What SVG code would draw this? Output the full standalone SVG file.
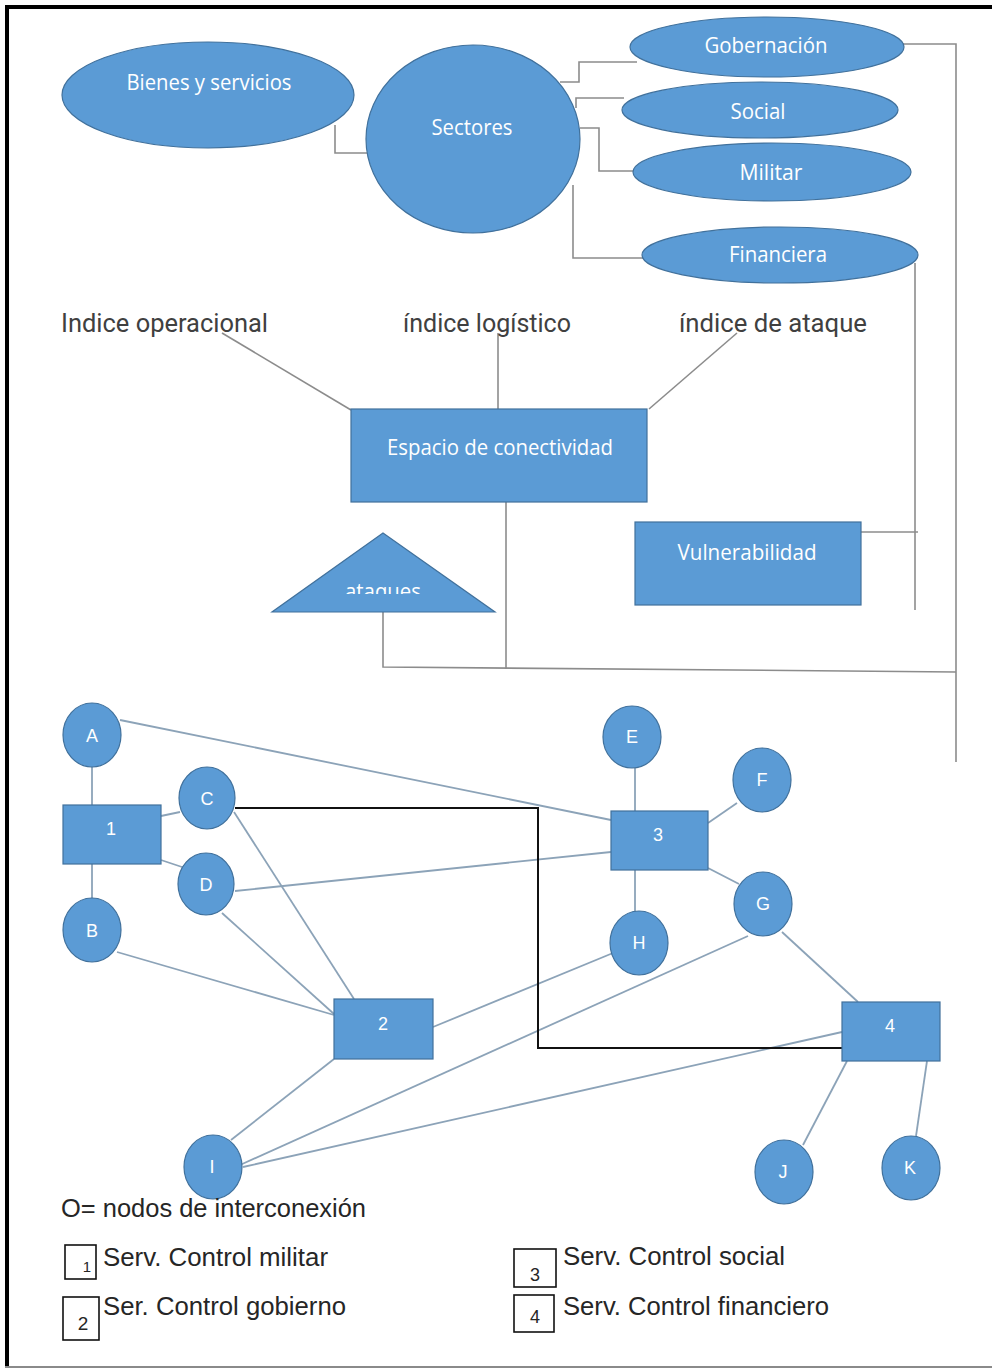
<svg xmlns="http://www.w3.org/2000/svg" width="992" height="1370" viewBox="0 0 992 1370">
  <defs>
    <style>
      .shape { fill: #5b9bd5; stroke: #41719c; stroke-width: 1.2; }
      .lbl { fill: #ffffff; font-family: "Open Sans", "Noto Sans", sans-serif; font-size: 21px; text-anchor: middle; }
      .node { fill: #ffffff; font-family: "Liberation Sans", Arial, sans-serif; font-size: 18px; text-anchor: middle; }
      .idx { fill: #404040; font-family: Roboto, "Liberation Sans", sans-serif; font-size: 26px; }
      .leg { fill: #262626; font-family: "Liberation Sans", Arial, sans-serif; font-size: 25px; }
      .legnum { fill: #262626; font-family: "Liberation Sans", Arial, sans-serif; text-anchor: middle; }
      .grey { fill: none; stroke: #8c8c8c; stroke-width: 1.6; }
      .edge { fill: none; stroke: #8ca3b8; stroke-width: 1.8; }
      .black { fill: none; stroke: #111111; stroke-width: 2; }
      .box { fill: #ffffff; stroke: #111111; stroke-width: 1.6; }
    </style>
    <clipPath id="clipAtaques">
      <rect x="300" y="560" width="180" height="34"/>
    </clipPath>
  </defs>

  <!-- page -->
  <rect x="0" y="0" width="992" height="1370" fill="#ffffff"/>
  <path d="M7,1367 V7 H992" fill="none" stroke="#000000" stroke-width="4"/>
  <line x1="5" y1="1367" x2="992" y2="1367" stroke="#8a8a8a" stroke-width="2"/>

  <!-- connectors -->
  <g id="connectors">
    <!-- sector tree -->
    <path class="grey" d="M335,125 V153 H367"/>
    <path class="grey" d="M560,82 H579 V62 H637"/>
    <path class="grey" d="M576,108 V98 H624"/>
    <path class="grey" d="M580,128 H599 V171 H634"/>
    <path class="grey" d="M573,185 V258 H643"/>
    <path class="grey" d="M903,44 H956 V762"/>
    <path class="grey" d="M915,263 V610"/>
    <path class="grey" d="M861,532 H918"/>
    <!-- indices -->
    <path class="grey" d="M222,333 L351,410"/>
    <path class="grey" d="M498,333 V409"/>
    <path class="grey" d="M737,333 L649,409"/>
    <!-- espacio / ataques bus -->
    <path class="grey" d="M506,502 V669"/>
    <path class="grey" d="M383,612 V667 L956,672"/>

    <!-- network -->
    <path class="edge" d="M92,767 V805"/>
    <path class="edge" d="M92,864 V898"/>
    <path class="edge" d="M120,720 L611,820"/>
    <path class="edge" d="M161,816 L180,812"/>
    <path class="edge" d="M161,860 L182,867"/>
    <path class="edge" d="M234,812 L354,999"/>
    <path class="edge" d="M222,913 L334,1014"/>
    <path class="edge" d="M117,952 L334,1015"/>
    <path class="edge" d="M235,891 L611,852"/>
    <path class="edge" d="M635,768 V811"/>
    <path class="edge" d="M737,803 L708,823"/>
    <path class="edge" d="M708,868 L739,884"/>
    <path class="edge" d="M635,870 V912"/>
    <path class="edge" d="M613,953 L433,1027"/>
    <path class="edge" d="M748,936 L240,1165"/>
    <path class="edge" d="M782,932 L858,1002"/>
    <path class="edge" d="M334,1059 L231,1140"/>
    <path class="edge" d="M842,1032 L243,1167"/>
    <path class="edge" d="M847,1061 L803,1145"/>
    <path class="edge" d="M927,1061 L916,1136"/>
    <path class="black" d="M235,808 H538 V1048 H842"/>
  </g>

  <!-- sectors -->
  <g id="bienes">
    <ellipse class="shape" cx="208" cy="95" rx="146" ry="53"/>
    <text class="lbl" x="209" y="90" textLength="165" lengthAdjust="spacingAndGlyphs">Bienes y servicios</text>
  </g>
  <g id="sectores">
    <ellipse class="shape" cx="473" cy="139" rx="107" ry="94"/>
    <text class="lbl" x="472" y="135" textLength="81" lengthAdjust="spacingAndGlyphs">Sectores</text>
  </g>
  <g id="gobernacion">
    <ellipse class="shape" cx="767" cy="47" rx="137" ry="30"/>
    <text class="lbl" x="766" y="53" textLength="123" lengthAdjust="spacingAndGlyphs">Gobernación</text>
  </g>
  <g id="social">
    <ellipse class="shape" cx="760" cy="110" rx="138" ry="28"/>
    <text class="lbl" x="758" y="119" textLength="55" lengthAdjust="spacingAndGlyphs">Social</text>
  </g>
  <g id="militar">
    <ellipse class="shape" cx="772" cy="172" rx="139" ry="29"/>
    <text class="lbl" x="771" y="180" textLength="63" lengthAdjust="spacingAndGlyphs">Militar</text>
  </g>
  <g id="financiera">
    <ellipse class="shape" cx="780" cy="255" rx="138" ry="28"/>
    <text class="lbl" x="778" y="262" textLength="98" lengthAdjust="spacingAndGlyphs">Financiera</text>
  </g>

  <!-- indices -->
  <g id="indice-operacional">
    <text class="idx" x="61" y="332" textLength="207" lengthAdjust="spacingAndGlyphs">Indice operacional</text>
  </g>
  <g id="indice-logistico">
    <text class="idx" x="403" y="332" textLength="168" lengthAdjust="spacingAndGlyphs">índice logístico</text>
  </g>
  <g id="indice-ataque">
    <text class="idx" x="679" y="332" textLength="188" lengthAdjust="spacingAndGlyphs">índice de ataque</text>
  </g>

  <g id="espacio">
    <rect class="shape" x="351" y="409" width="296" height="93"/>
    <text class="lbl" x="500" y="455" textLength="226" lengthAdjust="spacingAndGlyphs">Espacio de conectividad</text>
  </g>
  <g id="vulnerabilidad">
    <rect class="shape" x="635" y="522" width="226" height="83"/>
    <text class="lbl" x="747" y="560" textLength="139" lengthAdjust="spacingAndGlyphs">Vulnerabilidad</text>
  </g>
  <g id="ataques">
    <polygon class="shape" points="383,533 495,612 272,612"/>
    <text class="lbl" x="383" y="599" textLength="76" lengthAdjust="spacingAndGlyphs" clip-path="url(#clipAtaques)">ataques</text>
  </g>

  <!-- network nodes -->
  <g id="node-A"><ellipse class="shape" cx="92" cy="735" rx="29" ry="32"/><text class="node" x="92" y="742">A</text></g>
  <g id="node-B"><ellipse class="shape" cx="92" cy="930" rx="29" ry="32"/><text class="node" x="92" y="937">B</text></g>
  <g id="node-C"><ellipse class="shape" cx="207" cy="798" rx="28" ry="31"/><text class="node" x="207" y="805">C</text></g>
  <g id="node-D"><ellipse class="shape" cx="206" cy="884" rx="28" ry="31"/><text class="node" x="206" y="891">D</text></g>
  <g id="node-E"><ellipse class="shape" cx="632" cy="737" rx="29" ry="31"/><text class="node" x="632" y="743">E</text></g>
  <g id="node-F"><ellipse class="shape" cx="762" cy="780" rx="29" ry="32"/><text class="node" x="762" y="786">F</text></g>
  <g id="node-G"><ellipse class="shape" cx="763" cy="904" rx="29" ry="32"/><text class="node" x="763" y="910">G</text></g>
  <g id="node-H"><ellipse class="shape" cx="639" cy="943" rx="29" ry="32"/><text class="node" x="639" y="949">H</text></g>
  <g id="node-I"><ellipse class="shape" cx="213" cy="1167" rx="29" ry="32"/><text class="node" x="212" y="1173">I</text></g>
  <g id="node-J"><ellipse class="shape" cx="784" cy="1172" rx="29" ry="32"/><text class="node" x="783" y="1178">J</text></g>
  <g id="node-K"><ellipse class="shape" cx="911" cy="1168" rx="29" ry="32"/><text class="node" x="910" y="1174">K</text></g>

  <g id="serv-1"><rect class="shape" x="63" y="805" width="98" height="59"/><text class="node" x="111" y="835">1</text></g>
  <g id="serv-2"><rect class="shape" x="334" y="999" width="99" height="60"/><text class="node" x="383" y="1030">2</text></g>
  <g id="serv-3"><rect class="shape" x="611" y="811" width="97" height="59"/><text class="node" x="658" y="841">3</text></g>
  <g id="serv-4"><rect class="shape" x="842" y="1002" width="98" height="59"/><text class="node" x="890" y="1032">4</text></g>

  <!-- legend -->
  <g id="legend">
    <text class="leg" x="61" y="1217" textLength="305" lengthAdjust="spacingAndGlyphs">O= nodos de interconexión</text>

    <rect class="box" x="65" y="1245" width="31" height="34"/>
    <text class="legnum" x="87" y="1272" font-size="15">1</text>
    <text class="leg" x="103" y="1266" textLength="225" lengthAdjust="spacingAndGlyphs">Serv. Control militar</text>

    <rect class="box" x="63" y="1297" width="36" height="43"/>
    <text class="legnum" x="83" y="1330" font-size="19">2</text>
    <text class="leg" x="103" y="1315" textLength="243" lengthAdjust="spacingAndGlyphs">Ser. Control gobierno</text>

    <rect class="box" x="514" y="1249" width="42" height="38"/>
    <text class="legnum" x="535" y="1281" font-size="18">3</text>
    <text class="leg" x="563" y="1265" textLength="222" lengthAdjust="spacingAndGlyphs">Serv. Control social</text>

    <rect class="box" x="514" y="1295" width="40" height="37"/>
    <text class="legnum" x="535" y="1323" font-size="18">4</text>
    <text class="leg" x="563" y="1315" textLength="266" lengthAdjust="spacingAndGlyphs">Serv. Control financiero</text>
  </g>
</svg>
